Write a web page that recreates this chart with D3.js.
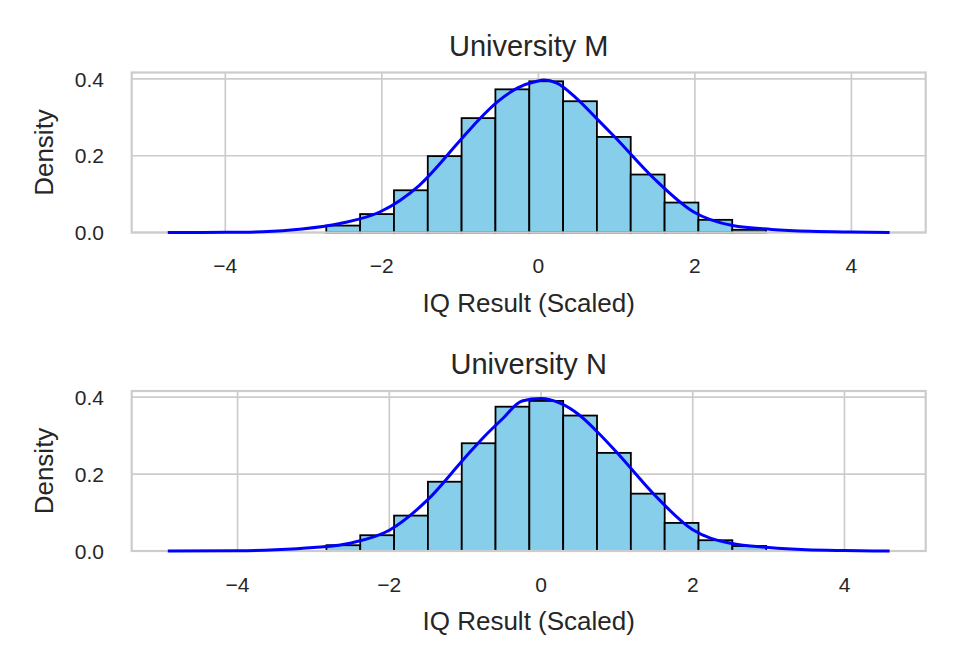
<!DOCTYPE html>
<html>
<head>
<meta charset="utf-8">
<script src="https://cdn.jsdelivr.net/npm/d3@7"></script>
<style>
  body { margin: 0; background: #fff; }
  svg { display: block; }
</style>
</head>
<body>
<div id="chart"></div>
<script>
// panel titles
const panelTitles = ["University M", "University N"];

// histogram bin edges (scaled IQ) and densities
const edgesM = [-2.71, -2.278, -1.845, -1.413, -0.981, -0.549, -0.116, 0.316, 0.748, 1.180, 1.613, 2.045, 2.477, 2.909];
const densM = [0.018, 0.048, 0.110, 0.199, 0.298, 0.373, 0.394, 0.342, 0.249, 0.151, 0.078, 0.033, 0.007];

const edgesN = [-2.829, -2.383, -1.937, -1.491, -1.045, -0.600, -0.154, 0.292, 0.738, 1.184, 1.630, 2.076, 2.522, 2.968];
const densN = [0.015, 0.041, 0.092, 0.180, 0.280, 0.375, 0.390, 0.352, 0.255, 0.149, 0.073, 0.028, 0.013];

// kde curves
const kdeXM = [-4.735, -4.0, -3.52, -3.02, -2.52, -2.02, -1.52, -1.02, -0.77, -0.52, -0.27, -0.02, 0.07, 0.23, 0.48, 0.73, 0.98, 1.48, 1.98, 2.48, 2.98, 3.48, 3.98, 4.488];
const kdeYM = [0.0, 0.0005, 0.002, 0.009, 0.024, 0.054, 0.123, 0.235, 0.292, 0.341, 0.376, 0.394, 0.397, 0.390, 0.351, 0.300, 0.248, 0.140, 0.054, 0.018, 0.008, 0.003, 0.001, 0.0];

const kdeXN = [-4.92, -4.0, -3.5, -3.0, -2.5, -2.0, -1.5, -1.0, -0.75, -0.5, -0.25, 0.0, 0.25, 0.5, 0.75, 1.0, 1.5, 2.0, 2.5, 3.0, 3.5, 4.0, 4.595];
const kdeYN = [0.0, 0.0005, 0.003, 0.009, 0.021, 0.054, 0.132, 0.243, 0.297, 0.345, 0.390, 0.396, 0.384, 0.354, 0.308, 0.256, 0.145, 0.055, 0.020, 0.009, 0.003, 0.001, 0.0];

const xTicks = [-4, -2, 0, 2, 4];
const yTicks = [0, 0.2, 0.4];

const xLabel = "IQ Result (Scaled)";
const yLabel = "Density";

const panels = [
  { title: panelTitles[0], edges: edgesM, dens: densM, kx: kdeXM, ky: kdeYM, top: 72.5 },
  { title: panelTitles[1], edges: edgesN, dens: densN, kx: kdeXN, ky: kdeYN, top: 391 }
];

const width = 960, height = 672;
const left = 131.7, right = 925.7, ph = 160;
const textColor = "#262626", gridColor = "#cccccc";
const font = "'Liberation Sans', Arial, sans-serif";

const svg = d3.select("#chart").append("svg")
  .attr("width", width)
  .attr("height", height)
  .style("font-family", font);

panels.forEach(p => {
  const kde = p.kx.map((x, i) => ({ x: x, y: p.ky[i] }));
  const bins = p.dens.map((d, i) => ({ x0: p.edges[i], x1: p.edges[i + 1], y: d }));

  // matplotlib style 5% margins on x, 5% headroom on y
  const xmin = d3.min(p.kx), xmax = d3.max(p.kx);
  const pad = (xmax - xmin) * 0.05;
  const x = d3.scaleLinear().domain([xmin - pad, xmax + pad]).range([left, right]);
  const ymax = Math.max(d3.max(p.ky), d3.max(p.dens)) * 1.05;
  const y = d3.scaleLinear().domain([0, ymax]).range([p.top + ph, p.top]);

  const g = svg.append("g");

  // grid
  g.append("g").selectAll("line")
    .data(xTicks)
    .enter().append("line")
    .attr("x1", d => x(d)).attr("x2", d => x(d))
    .attr("y1", p.top).attr("y2", p.top + ph)
    .attr("stroke", gridColor).attr("stroke-width", 1.7);

  g.append("g").selectAll("line")
    .data(yTicks)
    .enter().append("line")
    .attr("x1", left).attr("x2", right)
    .attr("y1", d => y(d)).attr("y2", d => y(d))
    .attr("stroke", gridColor).attr("stroke-width", 1.7);

  // bars
  g.append("g").selectAll("rect")
    .data(bins)
    .enter().append("rect")
    .attr("x", d => x(d.x0))
    .attr("y", d => y(d.y))
    .attr("width", d => x(d.x1) - x(d.x0))
    .attr("height", d => y(0) - y(d.y))
    .attr("fill", "#87ceeb")
    .attr("stroke", "#000")
    .attr("stroke-width", 1.8);

  // frame
  g.append("rect")
    .attr("x", left).attr("y", p.top)
    .attr("width", right - left).attr("height", ph)
    .attr("fill", "none")
    .attr("stroke", gridColor)
    .attr("stroke-width", 2.2);

  // kde line
  const line = d3.line()
    .x(d => x(d.x))
    .y(d => y(d.y))
    .curve(d3.curveMonotoneX);

  g.append("path")
    .datum(kde)
    .attr("d", line)
    .attr("fill", "none")
    .attr("stroke", "#0000ff")
    .attr("stroke-width", 3)
    .attr("stroke-linejoin", "round");

  // x tick labels
  g.append("g").selectAll("text")
    .data(xTicks)
    .enter().append("text")
    .attr("x", d => x(d))
    .attr("y", p.top + ph + 40.8)
    .attr("text-anchor", "middle")
    .attr("fill", textColor)
    .style("font-size", "21px")
    .text(d => d3.format("d")(d));

  // y tick labels
  g.append("g").selectAll("text")
    .data(yTicks)
    .enter().append("text")
    .attr("x", 104)
    .attr("y", d => y(d))
    .attr("dy", "0.36em")
    .attr("text-anchor", "end")
    .attr("fill", textColor)
    .style("font-size", "21px")
    .text(d => d3.format(".1f")(d));

  // title
  g.append("text")
    .attr("x", (left + right) / 2)
    .attr("y", p.top - 16.8)
    .attr("text-anchor", "middle")
    .attr("fill", textColor)
    .style("font-size", "29px")
    .text(p.title);

  // axis labels
  g.append("text")
    .attr("x", (left + right) / 2)
    .attr("y", p.top + ph + 79)
    .attr("text-anchor", "middle")
    .attr("fill", textColor)
    .style("font-size", "26px")
    .text(xLabel);

  g.append("text")
    .attr("transform", `translate(53.3,${p.top + ph / 2}) rotate(-90)`)
    .attr("text-anchor", "middle")
    .attr("fill", textColor)
    .style("font-size", "26px")
    .text(yLabel);
});
</script>
</body>
</html>
